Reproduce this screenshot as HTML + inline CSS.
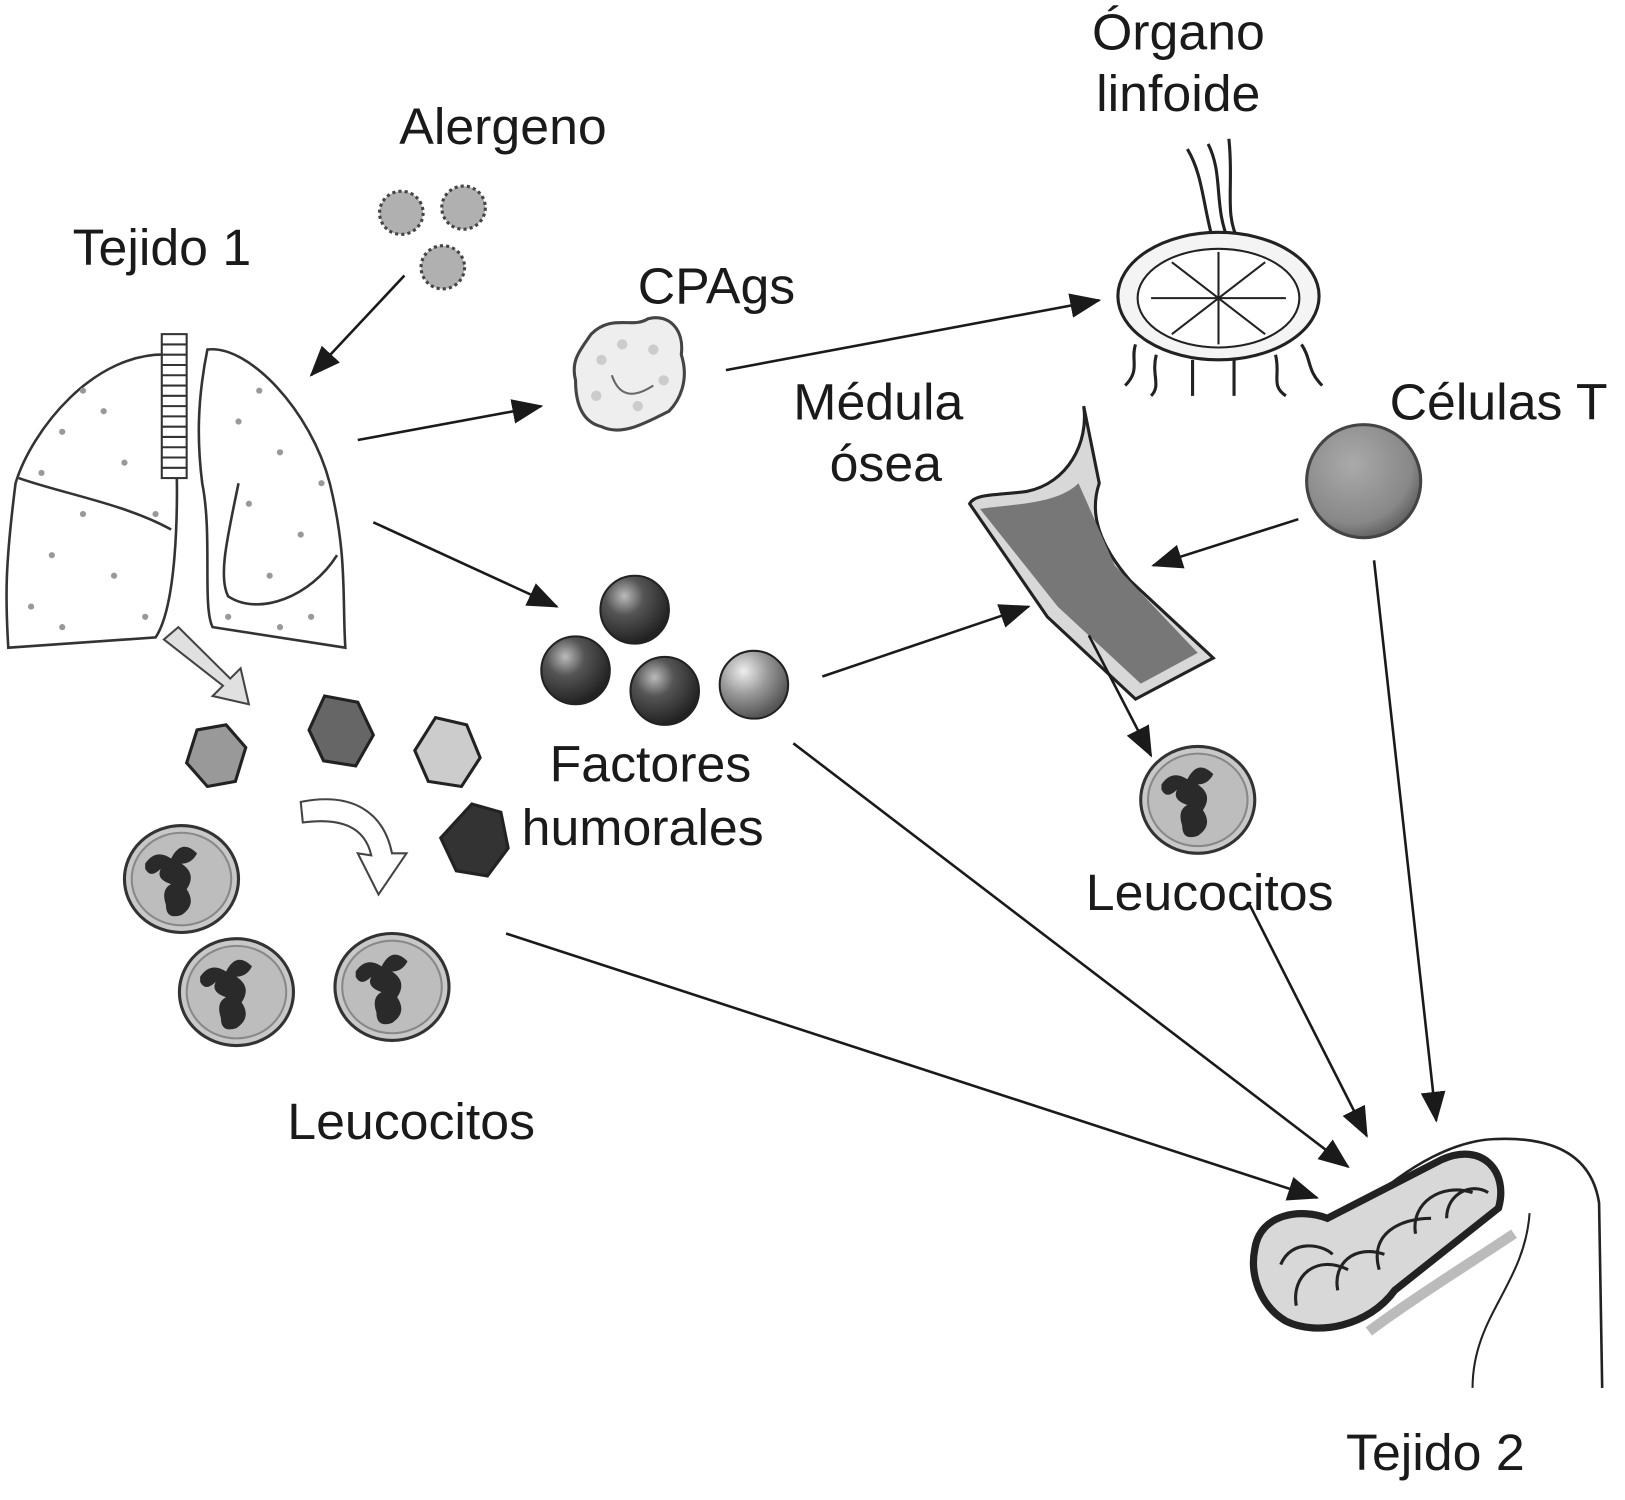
<!DOCTYPE html>
<html><head><meta charset="utf-8"><style>
html,body{margin:0;padding:0;background:#fff;width:1625px;height:1500px;overflow:hidden}
svg{display:block}
text{font-family:"Liberation Sans",sans-serif;font-size:50px;fill:#1a1a1a}
</style></head><body>
<svg width="1625" height="1500" viewBox="0 0 1567 1459" preserveAspectRatio="none" xmlns="http://www.w3.org/2000/svg">
<defs>
<marker id="ah" viewBox="0 0 30 24" refX="28" refY="12" markerWidth="30" markerHeight="24" orient="auto" markerUnits="userSpaceOnUse"><path d="M0,0 L30,12 L0,24 Z" fill="#1a1a1a"/></marker>
<radialGradient id="ball" cx="35%" cy="30%" r="70%"><stop offset="0" stop-color="#bbb"/><stop offset="0.4" stop-color="#555"/><stop offset="1" stop-color="#222"/></radialGradient>
<radialGradient id="ball2" cx="35%" cy="30%" r="70%"><stop offset="0" stop-color="#eee"/><stop offset="0.5" stop-color="#999"/><stop offset="1" stop-color="#555"/></radialGradient>
<radialGradient id="tc" cx="40%" cy="35%" r="65%"><stop offset="0" stop-color="#aaa"/><stop offset="0.8" stop-color="#888"/><stop offset="1" stop-color="#666"/></radialGradient>
<g id="leuk"><ellipse cx="0" cy="0" rx="55" ry="52" fill="#c8c8c8" stroke="#333" stroke-width="3"/><ellipse cx="0" cy="0" rx="48" ry="45" fill="#bdbdbd" stroke="#888" stroke-width="2"/>
<path d="M-35,-15 q10,-15 25,-5 q10,-20 25,-5 q-5,10 -15,10 q15,10 5,25 q10,15 -5,25 q-15,5 -15,-10 q-5,-15 5,-20 q-15,-5 -10,-15 q-10,10 -15,0 z" fill="#2a2a2a"/></g>
</defs>
<rect width="1567" height="1459" fill="#fff"/>

<g fill="#b0b0b0" stroke="#444" stroke-width="3" stroke-dasharray="3 3">
<circle cx="387" cy="207" r="21"/><circle cx="447" cy="202" r="21"/><circle cx="427" cy="260" r="21"/></g>

<!-- lungs -->
<g fill="#fff" stroke="#333" stroke-width="2.5">
<path d="M165,345 C90,340 30,420 15,470 C5,550 5,580 8,630 L150,620 C170,590 172,500 170,440 C172,400 170,370 165,345 Z"/>
<path d="M200,340 C240,335 300,400 318,470 C335,540 330,580 333,630 L205,610 C195,590 205,520 195,470 C190,430 190,390 200,340 Z"/>
<path d="M18,465 C60,480 120,490 165,515" fill="none"/>
<path d="M230,470 C220,520 210,560 220,580 C250,600 300,580 325,540" fill="none"/>
</g>
<g fill="#fff" stroke="#333" stroke-width="2">
<rect x="156" y="325" width="24" height="140"/>
<path d="M156,335 h24 M156,345 h24 M156,355 h24 M156,365 h24 M156,375 h24 M156,385 h24 M156,395 h24 M156,405 h24 M156,415 h24 M156,425 h24 M156,435 h24 M156,445 h24 M156,455 h24"/>
</g>
<g fill="#999">
<circle cx="60" cy="420" r="3"/><circle cx="100" cy="400" r="3"/><circle cx="120" cy="450" r="3"/><circle cx="80" cy="500" r="3"/><circle cx="50" cy="540" r="3"/><circle cx="110" cy="560" r="3"/><circle cx="140" cy="600" r="3"/><circle cx="30" cy="590" r="3"/><circle cx="230" cy="410" r="3"/><circle cx="270" cy="440" r="3"/><circle cx="240" cy="490" r="3"/><circle cx="290" cy="520" r="3"/><circle cx="260" cy="560" r="3"/><circle cx="300" cy="600" r="3"/><circle cx="220" cy="600" r="3"/><circle cx="150" cy="500" r="3"/><circle cx="80" cy="380" r="3"/><circle cx="40" cy="460" r="3"/><circle cx="250" cy="380" r="3"/><circle cx="310" cy="470" r="3"/><circle cx="60" cy="610" r="3"/><circle cx="270" cy="610" r="3"/></g>
<path d="M158,622 L172,610 L222,660 L232,650 L240,685 L205,677 L215,667 Z" fill="#e0e0e0" stroke="#444" stroke-width="2"/>
<g stroke="#222" stroke-width="3">
<polygon points="190,710 218,705 237,727 227,760 200,765 180,742" fill="#999"/>
<polygon points="313,677 345,683 360,715 343,745 312,740 298,710" fill="#666"/>
<polygon points="420,698 450,705 463,737 445,765 413,760 400,730" fill="#ccc"/>
<polygon points="455,782 483,790 490,825 470,852 440,847 425,815" fill="#333"/>
</g>
<path d="M290,780 C340,770 370,790 378,830 L392,830 L365,870 L345,830 L358,832 C352,805 330,795 292,800 Z" fill="#fff" stroke="#444" stroke-width="2"/>
<use href="#leuk" x="175" y="855"/><use href="#leuk" x="228" y="965"/><use href="#leuk" x="378" y="960"/><use href="#leuk" x="1155" y="778"/>

<path d="M570,325 C590,305 610,320 625,310 C645,305 660,320 657,345 C665,370 655,390 645,400 C625,410 600,425 580,415 C560,410 555,390 555,370 C550,350 560,340 570,325Z" fill="#eee" stroke="#444" stroke-width="3"/>
<g fill="#ccc"><circle cx="580" cy="350" r="5"/><circle cx="600" cy="335" r="5"/><circle cx="630" cy="340" r="5"/><circle cx="640" cy="370" r="5"/><circle cx="615" cy="395" r="5"/><circle cx="575" cy="385" r="5"/></g>
<path d="M590,365 q10,30 40,10" fill="none" stroke="#666" stroke-width="2"/>

<circle cx="612" cy="593" r="33" fill="url(#ball)" stroke="#222" stroke-width="2"/>
<circle cx="555" cy="652" r="33" fill="url(#ball)" stroke="#222" stroke-width="2"/>
<circle cx="641" cy="672" r="33" fill="url(#ball)" stroke="#222" stroke-width="2"/>
<circle cx="727" cy="666" r="33" fill="url(#ball2)" stroke="#222" stroke-width="2"/>

<g stroke="#222" stroke-width="3" fill="none">
<path d="M1145,145 C1160,170 1160,200 1170,235 M1165,140 C1180,170 1170,200 1185,235 M1185,135 C1190,180 1180,210 1195,235"/>
<ellipse cx="1175" cy="288" rx="97" ry="62" fill="#f4f4f4"/>
<ellipse cx="1175" cy="290" rx="78" ry="48" fill="#fff" stroke-width="2"/>
<path d="M1175,245 L1175,335 M1110,290 L1240,290 M1130,255 L1220,325 M1130,325 L1220,255" stroke-width="2"/>
<path d="M1095,335 C1090,350 1100,360 1085,375 M1115,345 C1110,365 1120,375 1110,385 M1150,350 L1150,385 M1190,350 L1190,385 M1230,345 C1235,365 1225,375 1240,385 M1255,335 C1265,350 1260,360 1275,375"/>
</g>

<path d="M1045,395 C1050,430 1030,470 990,478 C960,482 940,480 935,490 L1010,600 L1095,680 L1170,640 L1090,565 C1060,530 1050,500 1060,470 Z" fill="#d8d8d8" stroke="#222" stroke-width="3"/>
<path d="M945,495 C980,490 1020,490 1040,470 L1075,550 L1155,635 L1100,665 L1020,590 Z" fill="#777"/>

<circle cx="1315" cy="468" r="55" fill="url(#tc)" stroke="#444" stroke-width="3"/>

<!-- tejido 2 -->
<g stroke="#222" fill="none">
<path d="M1330,1160 C1360,1135 1400,1110 1440,1108 C1500,1105 1535,1125 1542,1170 L1545,1350" stroke-width="2.5"/>
<path d="M1475,1180 C1470,1250 1420,1280 1420,1350" stroke-width="2"/>
<path d="M1460,1200 C1400,1240 1360,1265 1320,1295" stroke="#bbb" stroke-width="10"/>
<path d="M1210,1215 C1215,1180 1255,1175 1280,1185 L1390,1128 C1430,1110 1455,1140 1445,1175 L1345,1255 C1320,1290 1270,1300 1240,1285 C1215,1270 1205,1240 1210,1215Z" fill="#d8d8d8" stroke-width="7"/>
<path d="M1235,1230 C1245,1205 1275,1210 1285,1220 M1250,1270 C1245,1240 1270,1220 1300,1235 M1290,1255 C1285,1230 1305,1210 1335,1220 M1330,1235 C1320,1200 1350,1185 1380,1185 M1365,1200 C1360,1170 1390,1150 1420,1160 M1395,1185 C1395,1160 1420,1150 1435,1160" stroke-width="3"/>
</g>

<g stroke="#1a1a1a" stroke-width="2.5" marker-end="url(#ah)">
<line x1="390" y1="268" x2="300" y2="365"/>
<line x1="345" y1="428" x2="522" y2="395"/>
<line x1="700" y1="360" x2="1060" y2="292"/>
<line x1="360" y1="508" x2="537" y2="590"/>
<line x1="793" y1="658" x2="992" y2="590"/>
<line x1="1252" y1="505" x2="1112" y2="550"/>
<line x1="1050" y1="618" x2="1110" y2="735"/>
<line x1="1325" y1="545" x2="1385" y2="1090"/>
<line x1="1205" y1="880" x2="1318" y2="1105"/>
<line x1="765" y1="723" x2="1300" y2="1135"/>
<line x1="488" y1="908" x2="1270" y2="1165"/>
</g>

<text x="385" y="140">Alergeno</text>
<text x="70" y="258">Tejido 1</text>
<text x="615" y="295">CPAgs</text>
<text x="1053" y="48">Órgano</text>
<text x="1057" y="108">linfoide</text>
<text x="765" y="408">Médula</text>
<text x="800" y="468">ósea</text>
<text x="1340" y="408">Células T</text>
<text x="530" y="760">Factores</text>
<text x="503" y="822">humorales</text>
<text x="1047" y="885">Leucocitos</text>
<text x="277" y="1108">Leucocitos</text>
<text x="1298" y="1430">Tejido 2</text>
</svg>
</body></html>
